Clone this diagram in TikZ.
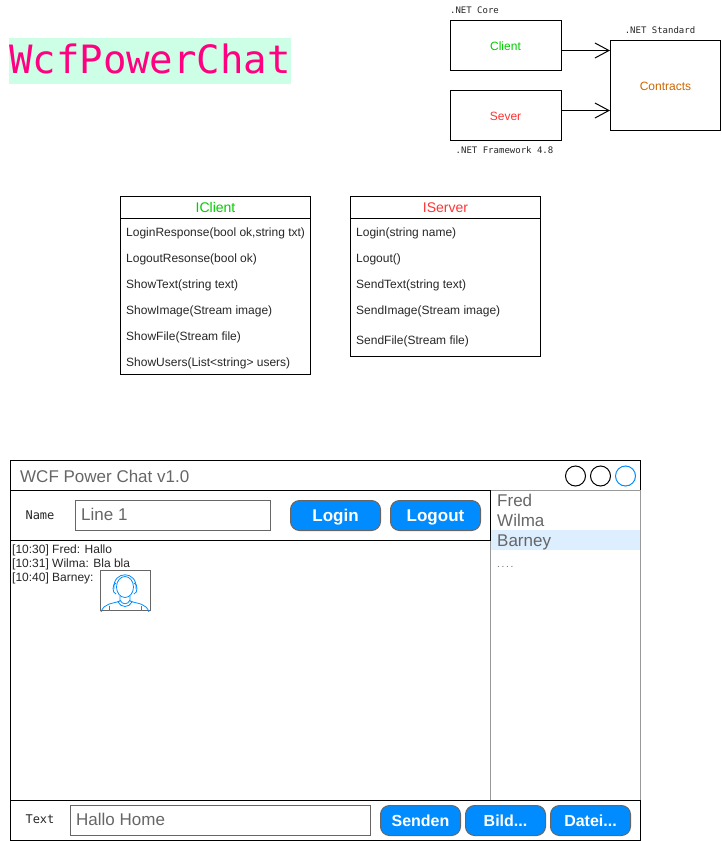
\documentclass[tikz,border=0pt]{standalone}
\usepackage{fontspec}
\setmainfont{Liberation Sans}
\newfontfamily\codefont{DejaVu Sans Mono}
\usetikzlibrary{arrows.meta}
\definecolor{chatblue}{HTML}{008CFF}
\definecolor{chatgray}{HTML}{666666}
\definecolor{listgray}{HTML}{999999}
\definecolor{rowblue}{HTML}{DDEEFF}
\definecolor{titlemint}{HTML}{CCFFE6}
\definecolor{titlepink}{HTML}{FF0080}
\definecolor{clientgreen}{HTML}{00CC00}
\definecolor{serverred}{HTML}{FF3333}
\definecolor{contractorange}{HTML}{CC6600}
\tikzset{
  pane/.style={draw,inner sep=0pt,line width=1pt},
  tag/.style={inner sep=0pt,font=\codefont\fontsize{9}{9}\selectfont,text=black!85},
  fieldtag/.style={inner sep=0pt,font=\codefont\fontsize{12}{12}\selectfont,text=black!85},
  member/.style={inner sep=0pt,anchor=west,font=\fontsize{12}{12}\selectfont,text=black!85},
  head/.style={pane,minimum width=190pt,minimum height=22pt,text height=10pt,text depth=0pt,font=\fontsize{14}{14}\selectfont},
  project/.style={pane,minimum height=50pt,text height=9pt,text depth=0pt,font=\fontsize{12}{12}\selectfont},
  inputbox/.style={draw=chatgray,line width=1pt,inner sep=0pt,minimum height=30pt},
  hint/.style={inner sep=0pt,anchor=west,text=chatgray,text height=12pt,text depth=0pt,font=\fontsize{17}{17}\selectfont},
  chatbutton/.style={draw=chatgray,fill=chatblue,line width=1pt,rounded corners=9pt,inner sep=0pt,
    minimum height=30pt,text=white,text height=12pt,text depth=0pt,font=\bfseries\fontsize{17}{17}\selectfont},
  winbutton/.style={circle,draw,line width=1pt,inner sep=0pt,minimum size=20pt},
  logline/.style={inner sep=0pt,anchor=west,font=\fontsize{12}{12}\selectfont,text=black!85},
  usericon/.style={draw=chatblue,line width=0.8pt},
  dep/.style={line width=1pt,-{Straight Barb[length=14pt,width=15pt,line width=1pt]}}
}
\begin{document}
\begin{tikzpicture}[x=1pt,y=-1pt]
\useasboundingbox (0,0) rectangle (721,841);
% title
\node[fill=titlemint,inner sep=0pt,minimum width=282pt,minimum height=46pt] (titleback) at (150,61) {};
\node[text=titlepink,inner sep=0pt,font=\codefont\fontsize{39}{39}\selectfont] (title) at (150,58.5) {WcfPowerChat};
% projects
\node[project,minimum width=111pt,text=clientgreen] (client) at (505.5,45.5) {Client};
\node[project,minimum width=111pt,text=serverred] (sever) at (505.5,115.5) {Sever};
\node[project,minimum width=110pt,minimum height=90pt,text=contractorange] (contracts) at (665.5,85.5) {Contracts};
\node[tag] (coretag) at (474.5,10) {.NET Core};
\node[tag] (standardtag) at (660,30) {.NET Standard};
\node[tag] (frameworktag) at (504.5,150) {.NET Framework 4.8};
\coordinate (clientout) at ([yshift=-5pt]client.east);
\coordinate (severout) at ([yshift=5pt]sever.east);
\draw[dep] (clientout)--(clientout-|contracts.west);
\draw[dep] (severout)--(severout-|contracts.west);
% interfaces
\node[pane,minimum width=190pt,minimum height=178pt] (iclient) at (215.5,285.5) {};
\node[head,text=clientgreen] (iclienthead) at (215.5,207.5) {IClient};
\node[member] (m1) at (126,233.5) {LoginResponse(bool ok,string txt)};
\node[member] (m2) at (126,259.5) {LogoutResonse(bool ok)};
\node[member] (m3) at (126,285.5) {ShowText(string text)};
\node[member] (m4) at (126,311.5) {ShowImage(Stream image)};
\node[member] (m5) at (126,337.5) {ShowFile(Stream file)};
\node[member] (m6) at (126,363.5) {ShowUsers(List<string> users)};
\node[pane,minimum width=190pt,minimum height=160pt] (iserver) at (445.5,276.5) {};
\node[head,text=serverred] (iserverhead) at (445.5,207.5) {IServer};
\node[member] (s1) at (356,233.5) {Login(string name)};
\node[member] (s2) at (356,259.5) {Logout()};
\node[member] (s3) at (356,285.5) {SendText(string text)};
\node[member] (s4) at (356,311.5) {SendImage(Stream image)};
\node[member] (s5) at (356,341.5) {SendFile(Stream file)};
% window
\node[pane,minimum width=630pt,minimum height=380pt] (window) at (325.5,650.5) {};
\node[pane,minimum width=630pt,minimum height=30pt] (titlebar) at (325.5,475.5) {};
\node[fill=rowblue,inner sep=0pt,minimum width=150pt,minimum height=20pt] (rowbar) at (565.5,540) {};
\node[draw=listgray,line width=1pt,inner sep=0pt,minimum width=150pt,minimum height=310pt] (userlist) at (565.5,645.5) {};
\node[pane,minimum width=480pt,minimum height=50pt] (namebar) at (250.5,515.5) {};
\node[pane,minimum width=630pt,minimum height=40pt] (textbar) at (325.5,820.5) {};
\node[inner sep=0pt,anchor=west,text=chatgray,font=\fontsize{17}{17}\selectfont] (wintitle) at (20,476) {WCF Power Chat v1.0};
\node[winbutton] (btnmin) at (575.5,476) {};
\node[winbutton] (btnmax) at (600.5,476) {};
\node[winbutton,draw=chatblue] (btnclose) at (625.5,476) {};
% login row
\node[fieldtag] (namelabel) at (40,515) {Name};
\node[inputbox,minimum width=195pt] (namebox) at (173,515.5) {};
\node[hint] (nametext) at (81,514.5) {Line 1};
\node[chatbutton,minimum width=90pt] (login) at (335.5,515.5) {Login};
\node[chatbutton,minimum width=90pt] (logout) at (435.5,515.5) {Logout};
% users
\node[hint] (user1) at (497,500) {Fred};
\node[hint] (user2) at (497,520) {Wilma};
\node[hint] (user3) at (497,540) {Barney};
\node[hint,font=\fontsize{10}{10}\selectfont] (user4) at (497,561) {.\,.\,.\,.};
% chat log
\node[logline] (log1) at (12,550.5) {[10:30] Fred: Hallo};
\node[logline] (log2) at (12,564) {[10:31] Wilma: Bla bla};
\node[logline] (log3) at (12,578) {[10:40] Barney:};
\node[draw=chatgray,line width=1pt,inner sep=0pt,minimum width=50pt,minimum height=40pt] (photo) at (125.5,590.5) {};
\begin{scope}
\clip (photo.south west) rectangle (photo.north east);
\draw[usericon] (125,587) ellipse (8.5 and 10.5);
\draw[usericon] (114,589) .. controls (112,570) and (138,570) .. (136,589);
\draw[usericon] (116,583) .. controls (112,584) and (112,593) .. (116,594);
\draw[usericon] (134,583) .. controls (138,584) and (138,593) .. (134,594);
\draw[usericon] (120,596) -- (120,601) .. controls (112,604) and (104,603) .. (101,612);
\draw[usericon] (130,596) -- (130,601) .. controls (138,604) and (146,603) .. (149,612);
\draw[usericon] (120,600) .. controls (122,605) and (128,605) .. (130,600);
\draw[usericon] (118,602) .. controls (121,608) and (129,608) .. (132,602);
\draw[usericon] (109,606) -- (109,611);
\draw[usericon] (141,606) -- (141,611);
\end{scope}
% text row
\node[fieldtag] (textlabel) at (40,819.5) {Text};
\node[inputbox,minimum width=300pt] (textbox) at (220.5,820.5) {};
\node[hint] (texthint) at (76,819.5) {Hallo Home};
\node[chatbutton,minimum width=80pt,font=\bfseries\fontsize{16}{16}\selectfont] (senden) at (420.5,820.5) {Senden};
\node[chatbutton,minimum width=80pt,font=\bfseries\fontsize{16}{16}\selectfont] (bild) at (505.5,820.5) {Bild...};
\node[chatbutton,minimum width=80pt,font=\bfseries\fontsize{16}{16}\selectfont] (datei) at (590.5,820.5) {Datei...};
\end{tikzpicture}
\end{document}
